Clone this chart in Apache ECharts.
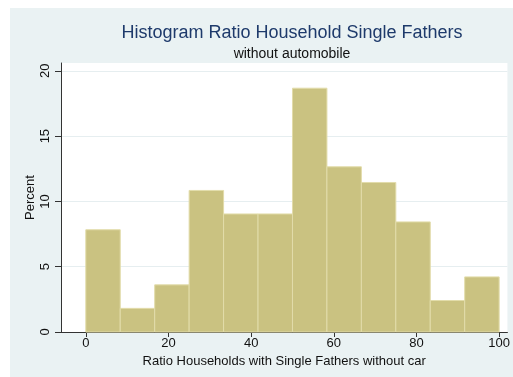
<!DOCTYPE html>
<html>
<head>
<meta charset="utf-8">
<script src="https://cdn.jsdelivr.net/npm/echarts@6/dist/echarts.min.js"></script>
<style>
  html, body { margin: 0; padding: 0; background: #ffffff; }
  #chart { width: 513px; height: 377px; }
</style>
</head>
<body>
<div id="chart"></div>
<script>
// Bin edges (percent of households), 12 equal-width bins
const binEdges = [0, 8.333, 16.667, 25, 33.333, 41.667, 50, 58.333, 66.667, 75, 83.333, 91.667, 100];
// Share of observations falling in each bin (percent)
const percents = [7.83, 1.81, 3.61, 10.84, 9.04, 9.04, 18.67, 12.65, 11.45, 8.43, 2.41, 4.22];
const xTicks = [0, 20, 40, 60, 80, 100];
const yTicks = [0, 5, 10, 15, 20];

const binData = percents.map((v, i) => [binEdges[i], binEdges[i + 1], v]);

const FONT = '"Liberation Sans", Arial, sans-serif';
const chart = echarts.init(document.getElementById('chart'), null, { renderer: 'canvas' });

chart.setOption({
  animation: false,
  backgroundColor: '#ffffff',
  graphic: [{
    type: 'rect', z: -10, silent: true,
    shape: { x: 10, y: 8, width: 503, height: 369 },
    style: { fill: '#eaf2f3' }
  }],
  title: [{
    text: 'Histogram Ratio Household Single Fathers',
    left: 287, top: 19, textAlign: 'center',
    textStyle: { fontFamily: FONT, fontSize: 18, fontWeight: 'normal', color: '#1e3a6b' }
  }, {
    text: 'without automobile',
    left: 287, top: 42, textAlign: 'center',
    textStyle: { fontFamily: FONT, fontSize: 14, fontWeight: 'normal', color: '#111111' }
  }],
  grid: { left: 61, right: 0, top: 63, bottom: 45, show: true, backgroundColor: '#ffffff', borderWidth: 0 },
  xAxis: {
    type: 'value', min: -6, max: 102,
    name: 'Ratio Households with Single Fathers without car',
    nameLocation: 'middle', nameGap: 22,
    nameTextStyle: { fontFamily: FONT, fontSize: 13, color: '#111111' },
    axisLine: { show: true, onZero: false, lineStyle: { color: '#333333', width: 1 } },
    axisTick: { show: true, length: 5, customValues: xTicks, lineStyle: { color: '#333333' } },
    axisLabel: { customValues: xTicks, margin: 5, fontFamily: FONT, fontSize: 13, color: '#111111' },
    splitLine: { show: false }
  },
  yAxis: {
    type: 'value', min: 0, max: 20.6,
    name: 'Percent', nameLocation: 'middle', nameGap: 24, nameRotate: 90, nameMoveOverlap: false,
    nameTextStyle: { fontFamily: FONT, fontSize: 13, color: '#111111' },
    axisLine: { show: true, onZero: false, lineStyle: { color: '#333333', width: 1 } },
    axisTick: { show: true, length: 6, customValues: yTicks, lineStyle: { color: '#333333' } },
    axisLabel: { customValues: yTicks, rotate: 90, margin: 9, fontFamily: FONT, fontSize: 13, color: '#111111' },
    splitLine: {
      show: true,
      lineStyle: { color: ['rgba(0,0,0,0)', '#e6eef0', '#e6eef0', '#e6eef0', '#e6eef0', 'rgba(0,0,0,0)'], width: 1 }
    }
  },
  series: [{
    type: 'custom',
    data: binData,
    encode: { x: [0, 1], y: 2 },
    renderItem: function (params, api) {
      const topLeft = api.coord([api.value(0), api.value(2)]);
      const bottomRight = api.coord([api.value(1), 0]);
      return {
        type: 'rect',
        shape: {
          x: topLeft[0], y: topLeft[1],
          width: bottomRight[0] - topLeft[0],
          height: bottomRight[1] - topLeft[1]
        },
        style: { fill: '#cac281', stroke: '#e2dcaa', lineWidth: 1 }
      };
    }
  }]
});
</script>
</body>
</html>
